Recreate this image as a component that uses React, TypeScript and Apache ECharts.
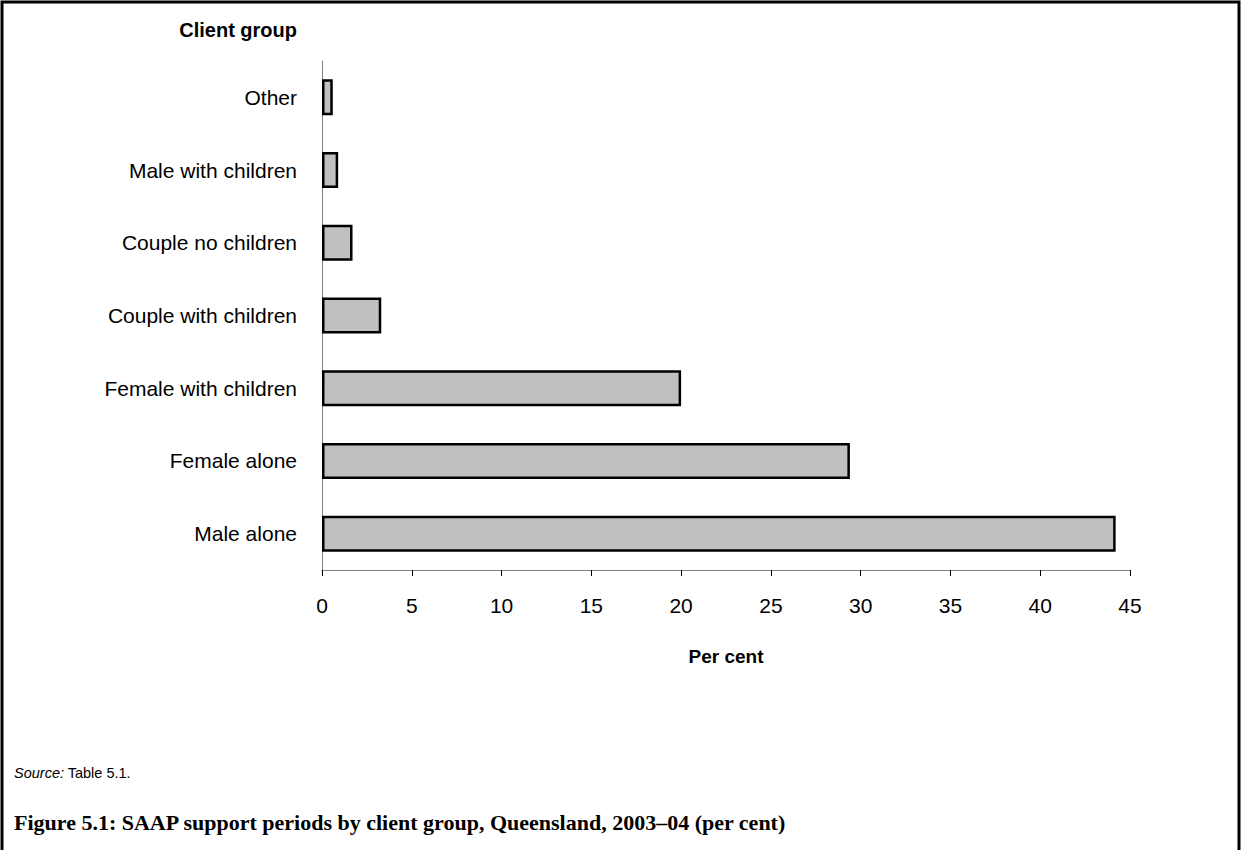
import React, { useEffect, useRef } from "react";
import * as echarts from "echarts";

// Client groups, top to bottom
const categories = [
  "Other",
  "Male with children",
  "Couple no children",
  "Couple with children",
  "Female with children",
  "Female alone",
  "Male alone",
];

// Share of support periods (per cent)
const perCent = [0.6, 0.9, 1.7, 3.3, 20.0, 29.4, 44.2];

const xTicks = [0, 5, 10, 15, 20, 25, 30, 35, 40, 45];

const SANS = "'Liberation Sans', Arial, Helvetica, sans-serif";
const SERIF = "'Liberation Serif', 'Times New Roman', serif";

export default function App() {
  const ref = useRef<HTMLDivElement>(null);

  useEffect(() => {
    if (!ref.current) return;
    const chart = echarts.init(ref.current, undefined, { renderer: "svg" });
    chart.setOption({
      animation: false,
      backgroundColor: "#ffffff",
      grid: { left: 322, right: 111, top: 61, bottom: 280, containLabel: false },
      xAxis: {
        type: "value",
        min: xTicks[0],
        max: xTicks[xTicks.length - 1],
        interval: 5,
        name: "Per cent",
        nameLocation: "middle",
        nameGap: 77,
        nameTextStyle: { fontFamily: SANS, fontWeight: "bold", fontSize: 19, color: "#000" },
        axisLine: { show: true, lineStyle: { color: "#808080", width: 1 } },
        axisTick: { show: true, length: 6, lineStyle: { color: "#000", width: 1 } },
        axisLabel: { fontFamily: SANS, fontSize: 21, color: "#000", margin: 25 },
        splitLine: { show: false },
      },
      yAxis: {
        type: "category",
        data: categories,
        inverse: true,
        axisLine: { show: true, lineStyle: { color: "#808080", width: 1 } },
        axisTick: { show: false },
        axisLabel: { fontFamily: SANS, fontSize: 21, color: "#000", margin: 25 },
        splitLine: { show: false },
      },
      series: [
        {
          type: "bar",
          data: perCent,
          barWidth: 36,
          itemStyle: { color: "#c0c0c0", borderColor: "#000", borderWidth: 2.5 },
        },
      ],
      graphic: [
        {
          type: "polyline",
          shape: { points: [[2, 850], [2, 2], [1239, 2], [1239, 850]] },
          style: { stroke: "#000", lineWidth: 3, fill: "none" },
          silent: true,
        },
        {
          type: "text",
          x: 297,
          y: 30,
          style: {
            text: "Client group",
            fontFamily: SANS,
            fontWeight: "bold",
            fontSize: 20,
            fill: "#000",
            align: "right",
            verticalAlign: "middle",
          },
        },
        {
          type: "text",
          x: 14,
          y: 773,
          style: {
            text: "{i|Source:} Table 5.1.",
            fontFamily: SANS,
            fontSize: 14.5,
            fill: "#000",
            verticalAlign: "middle",
            rich: { i: { fontFamily: SANS, fontStyle: "italic", fontSize: 14.5, fill: "#000" } },
          },
        },
        {
          type: "text",
          x: 14,
          y: 822,
          style: {
            text: "Figure 5.1: SAAP support periods by client group, Queensland, 2003\u201304 (per cent)",
            fontFamily: SERIF,
            fontWeight: "bold",
            fontSize: 22,
            fill: "#000",
            verticalAlign: "middle",
          },
        },
      ],
    });
    return () => chart.dispose();
  }, []);

  return (
    <div
      ref={ref}
      style={{ position: "absolute", left: 0, top: 0, width: 1241, height: 850 }}
    />
  );
}
